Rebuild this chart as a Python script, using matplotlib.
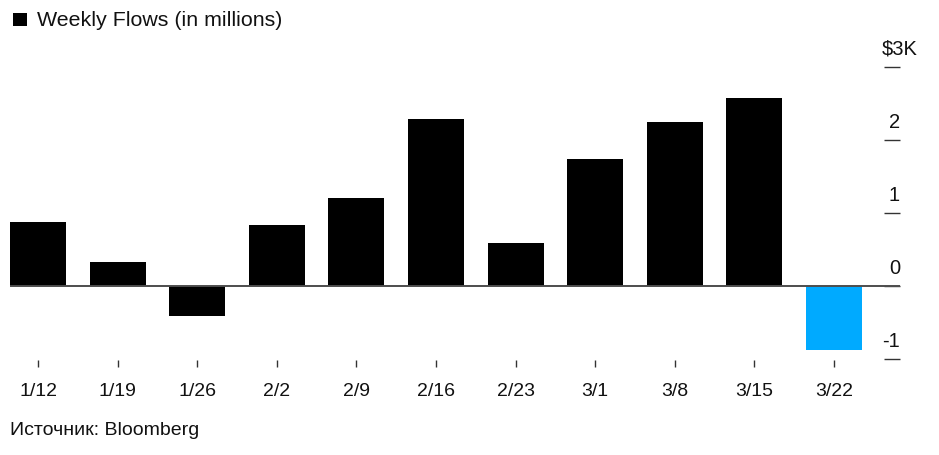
import matplotlib
matplotlib.use("Agg")
import matplotlib.pyplot as plt
from matplotlib.patches import Rectangle
import matplotlib.transforms as mtransforms

plt.rcParams['font.family'] = ['Liberation Sans', 'DejaVu Sans']

weeks = ["1/12", "1/19", "1/26", "2/2", "2/9", "2/16", "2/23", "3/1", "3/8", "3/15", "3/22"]
flows = [872, 326, -413, 831, 1206, 2289, 591, 1733, 2248, 2578, -880]
colors = ["#000000"] * 10 + ["#00aaff"]
ytick_vals = [-1000, 0, 1000, 2000, 3000]
ytick_labels = ["-1", "0", "1", "2", "$3K"]

W, H = 939, 456
fig = plt.figure(figsize=(W / 100, H / 100), dpi=100)

ax_left, ax_right = 10, 900
ax_top, ax_bottom = 67.7, 361.0
px_per_k = 73.0
ymin = 3000 - (ax_bottom - ax_top) / px_per_k * 1000
ax = fig.add_axes([ax_left / W, 1 - ax_bottom / H, (ax_right - ax_left) / W, (ax_bottom - ax_top) / H])

x = list(range(len(weeks)))
ax.bar(x, flows, width=0.703, color=colors, zorder=2)
ax.axhline(0, color="#4d4d4d", lw=1.4, zorder=3)

ax.set_xlim(-0.352, 10.83)
ax.set_ylim(ymin, 3000)

for s in ax.spines.values():
    s.set_visible(False)

ax.set_xticks(x)
ax.set_xticklabels(weeks, fontsize=14, color="#111111")
ax.tick_params(axis="x", direction="out", length=5, width=1, color="#333333", pad=11)

ax.set_yticks(ytick_vals)
ax.set_yticklabels([])
ax.yaxis.tick_right()
ax.tick_params(axis="y", direction="in", length=11.5, width=1, color="#333333", right=True, left=False)

trans = ax.get_yaxis_transform()
for v, lab in zip(ytick_vals, ytick_labels):
    dx = 18 if lab.startswith("$") else 0
    t = mtransforms.offset_copy(trans, fig=fig, x=dx / 100, y=13 / 100, units="inches")
    ax.text(1.0, v, lab, transform=t, ha="right", va="baseline", fontsize=14.5, color="#111111")

# legend header
fig.patches.append(Rectangle((13 / W, 1 - 27 / H), 14 / W, 13 / H, transform=fig.transFigure,
                             facecolor="#000000", edgecolor="none"))
fig.text(37 / W, 1 - 21 / H, "Weekly Flows (in millions)", fontsize=15.4, va="center", ha="left", color="#111111")

fig.text(10 / W, 1 - 435 / H, "Источник: Bloomberg", fontsize=14, va="baseline", ha="left", color="#111111")

fig.savefig("out.png", dpi=100, facecolor="white")
